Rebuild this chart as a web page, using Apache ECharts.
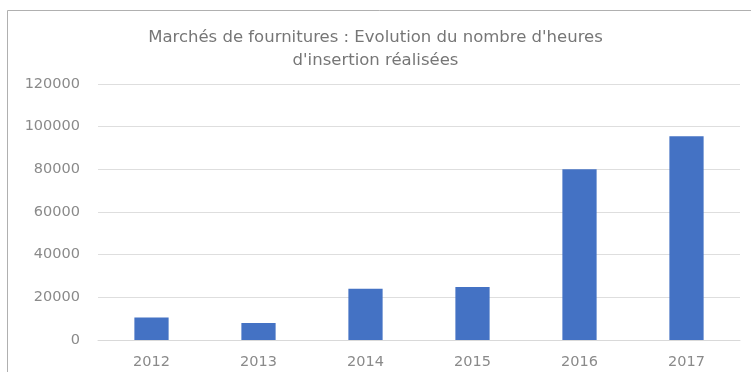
<!DOCTYPE html>
<html>
<head>
<meta charset="utf-8">
<script src="https://cdn.jsdelivr.net/npm/echarts@6/dist/echarts.min.js"></script>
<style>
  html, body { margin: 0; padding: 0; background: #fff; }
  #chart { width: 751px; height: 372px; }
</style>
</head>
<body>
<div id="chart"></div>
<script>
// Heures d'insertion réalisées par année (marchés de fournitures)
const years = ['2012', '2013', '2014', '2015', '2016', '2017'];
const heures = [10500, 8000, 24000, 24800, 80000, 95500];
const yTicks = [0, 20000, 40000, 60000, 80000, 100000, 120000];

const chart = echarts.init(document.getElementById('chart'), null, { renderer: 'canvas' });

chart.setOption({
  animation: false,
  backgroundColor: '#ffffff',
  title: {
    text: "Marchés de fournitures : Evolution du nombre d'heures\nd'insertion réalisées",
    left: 'center',
    top: 21,
    textStyle: {
      fontFamily: 'DejaVu Sans',
      fontSize: 16.5,
      fontWeight: 'normal',
      color: '#767676',
      lineHeight: 23
    }
  },
  graphic: [{
    type: 'rect',
    shape: { x: 7.5, y: 10.5, width: 760, height: 380 },
    style: { fill: 'none', stroke: '#b0b0b0', lineWidth: 1 },
    silent: true,
    z: -1
  }],
  grid: { left: 98, right: 11, top: 84, bottom: 32 },
  xAxis: {
    type: 'category',
    data: years,
    axisLine: { show: true, lineStyle: { color: '#d9d9d9' } },
    axisTick: { show: false },
    axisLabel: {
      color: '#8a8a8a',
      fontFamily: 'DejaVu Sans',
      fontSize: 14.5,
      margin: 15
    }
  },
  yAxis: {
    type: 'value',
    min: yTicks[0],
    max: yTicks[yTicks.length - 1],
    interval: yTicks[1] - yTicks[0],
    axisLine: { show: false },
    axisTick: { show: false },
    splitLine: { lineStyle: { color: '#dedede' } },
    axisLabel: {
      color: '#8a8a8a',
      fontFamily: 'DejaVu Sans',
      fontSize: 14.5,
      margin: 18,
      formatter: (v) => String(v)
    }
  },
  series: [{
    type: 'bar',
    data: heures,
    barWidth: '32%',
    itemStyle: { color: '#4472c4' }
  }]
});
</script>
</body>
</html>
